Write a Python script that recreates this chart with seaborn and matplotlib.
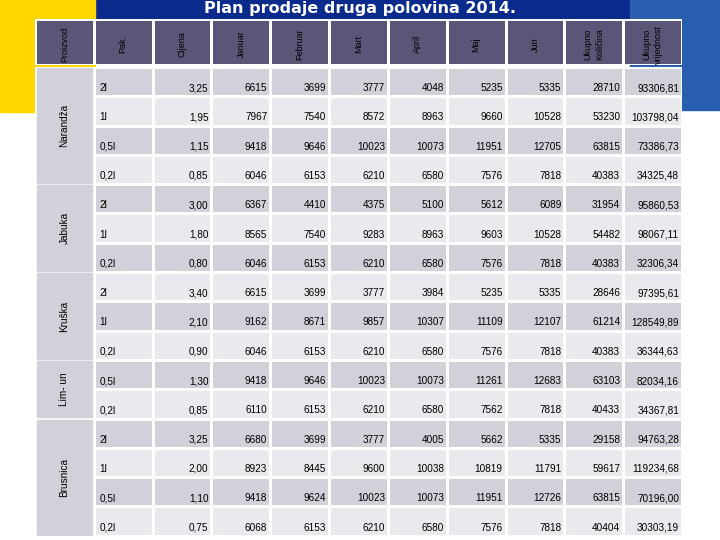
import numpy as np
import matplotlib
matplotlib.use("Agg")
import matplotlib.pyplot as plt
from matplotlib.colors import ListedColormap
from matplotlib.patches import Rectangle
import seaborn as sns

plt.rcParams["font.family"] = ["Liberation Sans", "DejaVu Sans"]

# podaci tabele
headers = ["Proizvod", "Pak.", "Cijena", "Januar", "Februar", "Mart", "April",
           "Maj", "Jun", "Ukupno\nKoličina", "Ukupno\nvrijednost"]
products = ["Narandža", "Jabuka", "Kruška", "Lim- un", "Brusnica"]
product_rows = [4, 3, 3, 2, 4]
packs = ["2l", "1l", "0,5l", "0,2l",
         "2l", "1l", "0,2l",
         "2l", "1l", "0,2l",
         "0,5l", "0,2l",
         "2l", "1l", "0,5l", "0,2l"]
prices = ["3,25", "1,95", "1,15", "0,85", "3,00", "1,80", "0,80", "3,40", "2,10",
          "0,90", "1,30", "0,85", "3,25", "2,00", "1,10", "0,75"]
januar = [6615, 7967, 9418, 6046, 6367, 8565, 6046, 6615, 9162, 6046, 9418, 6110, 6680, 8923, 9418, 6068]
februar = [3699, 7540, 9646, 6153, 4410, 7540, 6153, 3699, 8671, 6153, 9646, 6153, 3699, 8445, 9624, 6153]
mart = [3777, 8572, 10023, 6210, 4375, 9283, 6210, 3777, 9857, 6210, 10023, 6210, 3777, 9600, 10023, 6210]
april = [4048, 8963, 10073, 6580, 5100, 8963, 6580, 3984, 10307, 6580, 10073, 6580, 4005, 10038, 10073, 6580]
maj = [5235, 9660, 11951, 7576, 5612, 9603, 7576, 5235, 11109, 7576, 11261, 7562, 5662, 10819, 11951, 7576]
jun = [5335, 10528, 12705, 7818, 6089, 10528, 7818, 5335, 12107, 7818, 12683, 7818, 5335, 11791, 12726, 7818]
ukupno_kol = [28710, 53230, 63815, 40383, 31954, 54482, 40383, 28646, 61214, 40383, 63103, 40433, 29158, 59617, 63815, 40404]
ukupno_vr = ["93306,81", "103798,04", "73386,73", "34325,48", "95860,53", "98067,11", "32306,34",
             "97395,61", "128549,89", "36344,63", "82034,16", "34367,81", "94763,28", "119234,68",
             "70196,00", "30303,19"]

W, H = 720, 540
fig = plt.figure(figsize=(7.2, 5.4), dpi=100)
fig.patch.set_facecolor("white")

# pozadina
bg = fig.add_axes([0, 0, 1, 1])
bg.set_xlim(0, W); bg.set_ylim(H, 0); bg.axis("off")
bg.add_patch(Rectangle((0, 0), W, 62, color="#0a2a8c"))
bg.add_patch(Rectangle((0, 0), 95, 110, color="#ffd800"))
bg.add_patch(Rectangle((630, 0), 90, 110, color="#2a5fb0"))
bg.add_patch(Rectangle((0, 62), 35, 50, color="#ffd800"))
bg.text(360, 9, "Plan prodaje druga polovina 2014.", color="white", fontsize=11.5,
        fontweight="bold", ha="center", va="center", family="DejaVu Sans")

x0, x1 = 35, 682
n = len(packs)
rh = 29.3
y_body = 67
ncol = len(headers)

# zaglavlje
hax = fig.add_axes([x0 / W, 1 - 65 / H, (x1 - x0) / W, (65 - 19) / H])
sns.heatmap(np.zeros((1, ncol)), ax=hax, cmap=ListedColormap(["#5b5578"]), cbar=False,
            linewidths=2, linecolor="white", xticklabels=False, yticklabels=False)
for j, h in enumerate(headers):
    hax.text(j + 0.5, 0.55, h, rotation=90, ha="center", va="center",
             fontsize=6.5, color="black", linespacing=1.3)

# tijelo tabele
bax = fig.add_axes([x0 / W, 1 - (y_body + n * rh) / H, (x1 - x0) / W, n * rh / H])
shade = np.array([[i % 2] * ncol for i in range(n)], dtype=float)
sns.heatmap(shade, ax=bax, cmap=ListedColormap(["#d1d1d9", "#e9e9ee"]), cbar=False,
            linewidths=2, linecolor="white", xticklabels=False, yticklabels=False)

rows = list(zip(packs, prices, januar, februar, mart, april, maj, jun, ukupno_kol, ukupno_vr))
for i, r in enumerate(rows):
    bax.text(1.1, i + 0.72, r[0], ha="left", va="center", fontsize=7.2)
    for j, v in enumerate(r[1:]):
        bax.text(j + 2.95, i + 0.72, str(v), ha="right", va="center", fontsize=7.2)

start = 0
for p, k in zip(products, product_rows):
    bax.add_patch(Rectangle((0.03, start + 0.04), 0.94, k - 0.08, color="#d1d1d9", zorder=3))
    bax.text(0.5, start + k / 2, p, rotation=90, ha="center", va="center", fontsize=7.2, zorder=4)
    start += k

fig.savefig("out.png", dpi=100)
